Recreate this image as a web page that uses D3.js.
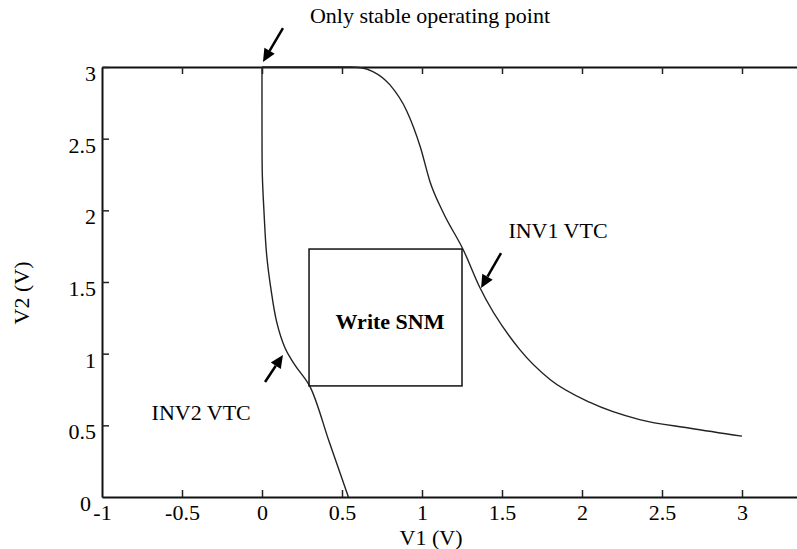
<!DOCTYPE html>
<html>
<head>
<meta charset="utf-8">
<script src="https://cdn.jsdelivr.net/npm/d3@7"></script>
<style>
  body { margin: 0; background: #fff; }
  text { font-family: "Liberation Serif", "Times New Roman", serif; fill: #000; }
</style>
</head>
<body>
<div id="chart"></div>
<script>
// INV1 VTC (V1 -> V2)
var inv1V1 = [0, 0.55, 0.62, 0.69, 0.8, 0.906, 0.99, 1.05, 1.13, 1.26, 1.36, 1.61, 1.80, 2.05, 2.36, 2.675, 3.0];
var inv1V2 = [3, 3, 2.995, 2.97, 2.875, 2.69, 2.44, 2.2, 1.99, 1.72, 1.465, 1.03, 0.82, 0.66, 0.54, 0.48, 0.425];
// INV2 VTC
var inv2V1 = [0, 0, 0.002, 0.012, 0.029, 0.056, 0.092, 0.144, 0.206, 0.30, 0.42, 0.54];
var inv2V2 = [3, 2.6, 2.25, 2.0, 1.69, 1.45, 1.22, 1.04, 0.92, 0.77, 0.385, 0];

var xTicks = [-1, -0.5, 0, 0.5, 1, 1.5, 2, 2.5, 3];
var yTicks = [0, 0.5, 1, 1.5, 2, 2.5, 3];

// write SNM square: [v1min, v1max, v2min, v2max]
var snmBox = [0.294, 1.25, 0.775, 1.73];

var labels = [
  {text: "Only stable operating point", x: 1.05, y: 3.31, bold: false},
  {text: "INV1 VTC", x: 1.85, y: 1.81, bold: false},
  {text: "INV2 VTC", x: -0.38, y: 0.535, bold: false},
  {text: "Write SNM", x: 0.8, y: 1.17, bold: true}
];
var arrows = [
  {x1: 0.131, y1: 3.272, x2: 0.006, y2: 3.035},
  {x1: 1.494, y1: 1.702, x2: 1.369, y2: 1.458},
  {x1: 0.019, y1: 0.802, x2: 0.131, y2: 0.991}
];

var width = 797, height = 549;
var svg = d3.select("#chart").append("svg")
    .attr("width", width)
    .attr("height", height);

var x = d3.scaleLinear().domain([-1, 3.5]).range([102, 822]);
var y = d3.scaleLinear().domain([0, 3]).range([497, 67]);

var fs = 22;

// axes
var gBottom = svg.append("g")
    .attr("transform", "translate(0," + y(0) + ")")
    .call(d3.axisBottom(x).tickValues(xTicks).tickSizeInner(-7).tickSizeOuter(0).tickPadding(7)
      .tickFormat(function(d) { return d; }));
var gTop = svg.append("g")
    .attr("transform", "translate(0," + y(3) + ")")
    .call(d3.axisTop(x).tickValues(xTicks.slice(1)).tickSizeInner(-7).tickSizeOuter(0).tickFormat(""));
var gLeft = svg.append("g")
    .attr("transform", "translate(" + x(-1) + ",0)")
    .call(d3.axisLeft(y).tickValues(yTicks).tickSizeInner(-7).tickSizeOuter(0).tickPadding(6)
      .tickFormat(function(d) { return d; }));

[gBottom, gTop, gLeft].forEach(function(g) {
  g.select(".domain").attr("stroke", "#111").attr("stroke-width", 2);
  g.selectAll(".tick line").attr("stroke", "#222").attr("stroke-width", 1.5);
  g.selectAll(".tick text")
    .style("font-family", "'Liberation Serif', 'Times New Roman', serif")
    .style("font-size", fs + "px")
    .attr("fill", "#000");
});
gLeft.selectAll(".tick text").attr("dy", "0.62em");
gLeft.selectAll(".tick").filter(function(d) { return d === 0; }).select("line").remove();
gLeft.selectAll(".tick").filter(function(d) { return d === 0; }).select("text").attr("x", -11);
gBottom.selectAll(".tick").filter(function(d) { return d === -1; }).select("line").remove();

// axis titles
svg.append("text")
    .attr("x", 431).attr("y", 545)
    .attr("text-anchor", "middle")
    .style("font-size", fs + "px")
    .text("V1 (V)");
svg.append("text")
    .attr("transform", "translate(29,293) rotate(-90)")
    .attr("text-anchor", "middle")
    .style("font-size", fs + "px")
    .text("V2 (V)");

// curves
var inv1 = inv1V1.map(function(v, i) { return [v, inv1V2[i]]; });
var inv2 = inv2V1.map(function(v, i) { return [v, inv2V2[i]]; });

svg.append("path")
    .datum(inv1)
    .attr("fill", "none")
    .attr("stroke", "#222")
    .attr("stroke-width", 1.4)
    .attr("d", d3.line().x(function(d) { return x(d[0]); }).y(function(d) { return y(d[1]); })
      .curve(d3.curveMonotoneX));

svg.append("path")
    .datum(inv2)
    .attr("fill", "none")
    .attr("stroke", "#222")
    .attr("stroke-width", 1.4)
    .attr("d", d3.line().x(function(d) { return x(d[0]); }).y(function(d) { return y(d[1]); })
      .curve(d3.curveCatmullRom.alpha(0.5)));

// write SNM box
svg.append("rect")
    .attr("x", x(snmBox[0]))
    .attr("y", y(snmBox[3]))
    .attr("width", x(snmBox[1]) - x(snmBox[0]))
    .attr("height", y(snmBox[2]) - y(snmBox[3]))
    .attr("fill", "none")
    .attr("stroke", "#111")
    .attr("stroke-width", 1.5);

// labels
svg.selectAll(".lbl")
    .data(labels)
    .enter()
    .append("text")
    .attr("class", "lbl")
    .attr("x", function(d) { return x(d.x); })
    .attr("y", function(d) { return y(d.y); })
    .attr("text-anchor", "middle")
    .style("font-size", fs + "px")
    .style("font-weight", function(d) { return d.bold ? "bold" : "normal"; })
    .text(function(d) { return d.text; });

// arrows
arrows.forEach(function(a) {
  var x1 = x(a.x1), y1 = y(a.y1), x2 = x(a.x2), y2 = y(a.y2);
  var dx = x2 - x1, dy = y2 - y1, len = Math.sqrt(dx * dx + dy * dy);
  var ux = dx / len, uy = dy / len;
  var hl = 13, hw = 6;
  var bx = x2 - ux * hl, by = y2 - uy * hl;
  svg.append("line")
      .attr("x1", x1).attr("y1", y1).attr("x2", bx).attr("y2", by)
      .attr("stroke", "#000").attr("stroke-width", 2.5);
  svg.append("path")
      .attr("d", "M" + x2 + "," + y2 +
        "L" + (bx - uy * hw) + "," + (by + ux * hw) +
        "L" + (bx + uy * hw) + "," + (by - ux * hw) + "Z")
      .attr("fill", "#000");
});
</script>
</body>
</html>
